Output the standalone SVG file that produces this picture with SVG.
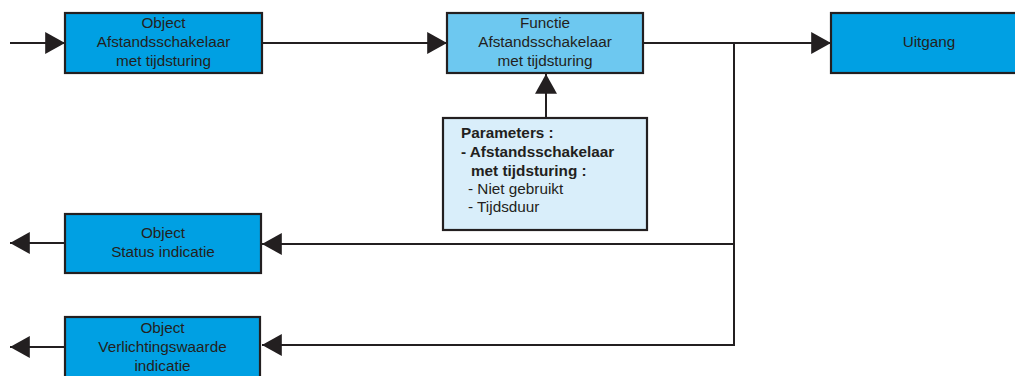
<svg xmlns="http://www.w3.org/2000/svg" width="1015" height="376" viewBox="0 0 1015 376">
<defs>
<style>
.box{fill:#00a0e3;stroke:#231f20;stroke-width:2.2}
.fn{fill:#6dc8f0;stroke:#231f20;stroke-width:2.2}
.par{fill:#d9eefa;stroke:#231f20;stroke-width:2.2}
.ln{fill:none;stroke:#231f20;stroke-width:2}
text{font-family:"Liberation Sans",Arial,sans-serif;font-size:15.3px;fill:#231f20}
.c{text-anchor:middle}
.b{font-weight:bold}
</style>
<marker id="ah" markerUnits="userSpaceOnUse" markerWidth="20" markerHeight="22" viewBox="0 0 18 20" refX="18" refY="10" orient="auto">
<path d="M0,0 L18,10 L0,20 Z" fill="#231f20"/>
</marker>
</defs>
<g id="connectors">
<line class="ln" x1="10" y1="43" x2="65" y2="43" marker-end="url(#ah)"/>
<line class="ln" x1="262" y1="43" x2="447" y2="43" marker-end="url(#ah)"/>
<line class="ln" x1="643" y1="43" x2="831" y2="43" marker-end="url(#ah)"/>
<line class="ln" x1="546" y1="118" x2="546" y2="74" marker-end="url(#ah)"/>
<polyline class="ln" points="734,43 734,345 262,345" marker-end="url(#ah)"/>
<line class="ln" x1="734" y1="244" x2="262" y2="244" marker-end="url(#ah)"/>
<line class="ln" x1="65" y1="243" x2="10" y2="243" marker-end="url(#ah)"/>
<line class="ln" x1="65" y1="347" x2="10" y2="347" marker-end="url(#ah)"/>
</g>
<g id="obj-afstand">
<rect class="box" x="65" y="13" width="197" height="60"/>
<text class="c" x="163.5" y="28">Object</text>
<text class="c" x="163.5" y="47">Afstandsschakelaar</text>
<text class="c" x="163.5" y="66">met tijdsturing</text>
</g>
<g id="functie">
<rect class="fn" x="447" y="13" width="196" height="60"/>
<text class="c" x="545" y="28">Functie</text>
<text class="c" x="545" y="47">Afstandsschakelaar</text>
<text class="c" x="545" y="66">met tijdsturing</text>
</g>
<g id="uitgang">
<rect class="box" x="831" y="13" width="190" height="60"/>
<text class="c" x="929" y="47">Uitgang</text>
</g>
<g id="parameters">
<rect class="par" x="443" y="118" width="204" height="112"/>
<text class="b" x="461" y="138">Parameters :</text>
<text class="b" x="461" y="157">- Afstandsschakelaar</text>
<text class="b" x="471" y="176">met tijdsturing :</text>
<text x="468" y="194">- Niet gebruikt</text>
<text x="468" y="212">- Tijdsduur</text>
</g>
<g id="obj-status">
<rect class="box" x="65" y="214" width="196" height="59"/>
<text class="c" x="163" y="238">Object</text>
<text class="c" x="163" y="257">Status indicatie</text>
</g>
<g id="obj-verlichting">
<rect class="box" x="65" y="317" width="195" height="62"/>
<text class="c" x="162.5" y="333">Object</text>
<text class="c" x="162.5" y="352">Verlichtingswaarde</text>
<text class="c" x="162.5" y="371">indicatie</text>
</g>
</svg>
